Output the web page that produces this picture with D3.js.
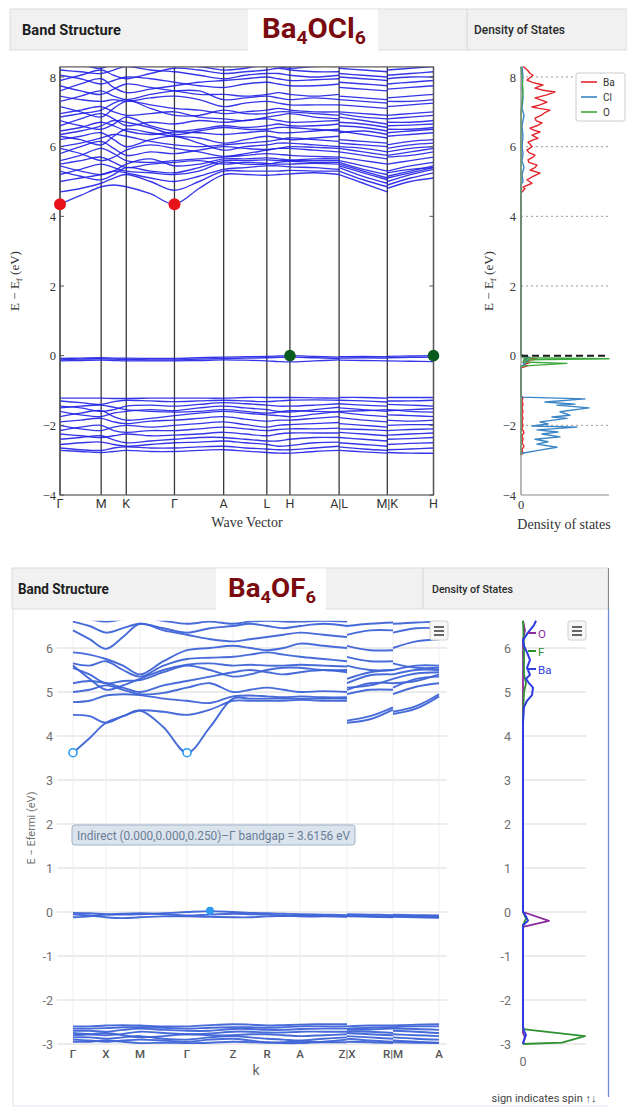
<!DOCTYPE html>
<html><head><meta charset="utf-8">
<script src="https://cdn.jsdelivr.net/npm/d3@7"></script>
<style>body{margin:0;background:#fff;} svg{display:block;}</style>
</head><body>
<svg id="chart" width="627" height="1108"></svg>
<script>
// ---------- Ba4OCl6 band structure ----------
const topKLabels = ["Γ", "M", "K", "Γ", "A", "L", "H", "A|L", "M|K", "H"];
const topKPos = [0, 0.41, 0.66, 1.14, 1.63, 2.06, 2.29, 2.78, 3.26, 3.72];
const topYTicks = [-4, -2, 0, 2, 4, 6, 8];

// each band: Γ m M m K m Γ m A m L m H m A | L m M | K m H
const topConduction = [
  [4.35,4.6,4.85,4.9,4.85,4.65,4.35,4.8,5.2,5.2,5.18,5.2,5.22,5.25,5.2, 5.2,4.95,4.7, 4.8,5.0,5.1],
  [4.7,4.8,4.95,5.1,5.2,5.0,4.75,5.0,5.3,5.3,5.3,5.3,5.32,5.3,5.3, 5.3,5.05,4.85, 4.9,5.1,5.25],
  [5.0,5.1,5.2,5.3,5.25,5.1,5.0,5.15,5.35,5.4,5.45,5.45,5.42,5.4,5.35, 5.4,5.15,4.95, 5.0,5.2,5.35],
  [5.2,5.35,5.5,5.4,5.3,5.25,5.2,5.3,5.55,5.5,5.5,5.55,5.58,5.55,5.55, 5.5,5.3,5.1, 5.15,5.3,5.45],
  [5.3,5.15,5.05,5.2,5.4,5.3,5.25,5.4,5.6,5.6,5.62,5.6,5.6,5.6,5.6, 5.45,5.25,5.05, 5.1,5.25,5.4],
  [5.45,5.3,5.2,5.3,5.5,5.65,5.45,5.5,5.65,5.65,5.68,5.65,5.62,5.65,5.65, 5.6,5.45,5.3, 5.3,5.45,5.55],
  [5.5,5.6,5.7,5.55,5.4,5.5,5.55,5.6,5.5,5.55,5.52,5.5,5.5,5.52,5.5, 5.55,5.35,5.2, 5.25,5.35,5.4],
  [5.6,5.75,5.95,5.8,5.6,5.55,5.6,5.65,5.7,5.75,5.8,5.78,5.75,5.72,5.7, 5.7,5.6,5.5, 5.5,5.6,5.7],
  [5.8,6.0,6.15,5.95,5.75,5.85,5.8,5.9,6.0,5.95,5.92,5.95,6.0,5.98,5.95, 5.95,5.85,5.75, 5.75,5.85,5.95],
  [5.95,5.8,5.6,5.7,5.9,6.05,5.95,5.85,5.72,5.8,5.9,5.95,5.95,5.9,5.85, 5.85,5.75,5.65, 5.7,5.75,5.85],
  [6.0,6.1,6.25,6.35,6.3,6.15,6.05,6.0,6.05,6.1,6.15,6.2,6.25,6.2,6.15, 6.1,6.05,6.0, 5.95,6.05,6.1],
  [6.2,6.3,6.4,6.2,6.0,6.2,6.3,6.1,5.9,6.0,6.05,6.1,6.1,6.05,6.0, 6.0,5.95,5.85, 5.85,5.95,6.0],
  [6.3,6.2,6.05,6.3,6.5,6.4,6.3,6.25,6.1,6.2,6.3,6.25,6.2,6.25,6.3, 6.2,6.15,6.1, 6.05,6.15,6.2],
  [6.35,6.45,6.6,6.75,6.7,6.55,6.35,6.45,6.55,6.5,6.5,6.55,6.55,6.5,6.45, 6.4,6.45,6.35, 6.4,6.45,6.5],
  [6.45,6.55,6.7,6.6,6.45,6.35,6.42,6.4,6.35,6.4,6.45,6.4,6.4,6.45,6.5, 6.45,6.35,6.25, 6.3,6.35,6.4],
  [6.6,6.8,6.95,6.8,6.6,6.7,6.65,6.75,6.7,6.75,6.8,6.75,6.7,6.72,6.75, 6.7,6.65,6.55, 6.6,6.62,6.65],
  [6.75,6.6,6.5,6.65,6.85,6.6,6.45,6.5,6.6,6.55,6.6,6.65,6.6,6.6,6.65, 6.6,6.55,6.45, 6.5,6.5,6.55],
  [6.85,6.95,7.05,7.25,7.35,7.1,6.9,6.9,7.05,6.95,6.95,7.0,7.0,6.95,6.9, 6.95,6.85,6.8, 6.8,6.85,6.9],
  [6.95,7.05,7.15,7.0,6.9,6.95,7.0,6.85,6.8,6.75,6.85,6.9,6.95,6.85,6.8, 6.85,6.75,6.65, 6.7,6.7,6.75],
  [7.15,7.0,6.85,7.1,7.3,7.2,7.1,7.05,6.95,7.0,7.05,7.1,7.05,7.0,7.0, 7.0,6.95,6.9, 6.9,6.95,7.0],
  [7.3,7.45,7.6,7.45,7.35,7.5,7.6,7.6,7.35,7.4,7.45,7.4,7.35,7.4,7.35, 7.35,7.3,7.25, 7.3,7.3,7.35],
  [7.45,7.35,7.3,7.35,7.3,7.4,7.45,7.35,7.15,7.25,7.3,7.25,7.2,7.2,7.2, 7.2,7.15,7.1, 7.15,7.2,7.25],
  [7.6,7.8,7.95,7.7,7.55,7.65,7.75,7.85,7.9,7.95,8.0,7.95,7.9,7.92,7.95, 7.85,7.8,7.75, 7.8,7.85,7.9],
  [7.75,7.6,7.5,7.65,7.8,7.7,7.6,7.5,7.5,7.45,7.5,7.55,7.5,7.45,7.5, 7.45,7.4,7.35, 7.4,7.45,7.5],
  [7.9,8.05,8.2,8.05,7.95,8.1,8.25,8.2,8.1,8.15,8.2,8.25,8.2,8.15,8.15, 8.1,8.05,8.0, 8.05,8.1,8.15],
  [8.05,7.95,7.8,7.9,8.0,7.95,7.85,7.75,7.7,7.8,7.85,7.8,7.75,7.75,7.8, 7.7,7.65,7.6, 7.65,7.7,7.75],
  [8.2,8.15,8.1,8.2,8.3,8.2,8.15,8.05,7.95,8.05,8.1,8.1,8.05,8.0,8.05, 8.0,7.95,7.9, 7.95,8.0,8.0],
  [8.4,8.35,8.25,8.4,8.5,8.45,8.35,8.3,8.2,8.25,8.35,8.3,8.25,8.3,8.3, 8.25,8.2,8.15, 8.2,8.25,8.3]
];
const topFlat = [
  [-0.08,-0.07,-0.06,-0.07,-0.07,-0.08,-0.08,-0.06,-0.04,-0.03,-0.02,-0.01,0.0,-0.02,-0.04, -0.03,-0.02,-0.03, -0.02,-0.01,0.0],
  [-0.12,-0.1,-0.09,-0.1,-0.11,-0.12,-0.12,-0.1,-0.08,-0.07,-0.06,-0.05,-0.04,-0.06,-0.08, -0.07,-0.06,-0.07, -0.06,-0.05,-0.04],
  [-0.15,-0.14,-0.13,-0.14,-0.15,-0.15,-0.15,-0.14,-0.12,-0.13,-0.15,-0.17,-0.18,-0.15,-0.12, -0.13,-0.14,-0.15, -0.15,-0.16,-0.17]
];
const topValence = [
  [-1.22,-1.22,-1.22,-1.23,-1.23,-1.22,-1.22,-1.22,-1.22,-1.2,-1.2,-1.2,-1.2,-1.21,-1.22, -1.2,-1.2,-1.22, -1.2,-1.2,-1.2],
  [-1.3,-1.35,-1.4,-1.32,-1.28,-1.3,-1.32,-1.3,-1.28,-1.3,-1.32,-1.3,-1.28,-1.27,-1.28, -1.28,-1.3,-1.33, -1.3,-1.3,-1.28],
  [-1.45,-1.5,-1.6,-1.55,-1.45,-1.42,-1.45,-1.4,-1.35,-1.38,-1.42,-1.45,-1.45,-1.42,-1.38, -1.38,-1.42,-1.45, -1.4,-1.42,-1.45],
  [-1.5,-1.45,-1.42,-1.48,-1.55,-1.6,-1.62,-1.6,-1.55,-1.6,-1.65,-1.62,-1.58,-1.6,-1.62, -1.6,-1.58,-1.55, -1.58,-1.55,-1.52],
  [-1.6,-1.7,-1.75,-1.65,-1.6,-1.55,-1.58,-1.5,-1.45,-1.5,-1.55,-1.6,-1.62,-1.55,-1.48, -1.5,-1.55,-1.6, -1.55,-1.6,-1.62],
  [-1.75,-1.65,-1.58,-1.75,-1.85,-1.8,-1.72,-1.65,-1.6,-1.65,-1.7,-1.72,-1.75,-1.68,-1.6, -1.62,-1.7,-1.75, -1.7,-1.72,-1.75],
  [-1.9,-1.85,-1.8,-1.9,-1.95,-1.88,-1.85,-1.8,-1.75,-1.82,-1.88,-1.85,-1.85,-1.8,-1.75, -1.78,-1.85,-1.9, -1.85,-1.88,-1.85],
  [-2.0,-2.1,-2.15,-2.05,-2.0,-2.05,-2.0,-1.95,-1.9,-1.98,-2.05,-2.0,-1.98,-1.95,-1.92, -1.95,-2.0,-2.05, -2.0,-1.98,-1.98],
  [-2.15,-2.05,-2.0,-2.15,-2.2,-2.15,-2.15,-2.1,-2.05,-2.1,-2.15,-2.12,-2.1,-2.1,-2.08, -2.1,-2.12,-2.15, -2.15,-2.12,-2.1],
  [-2.25,-2.3,-2.35,-2.3,-2.25,-2.3,-2.28,-2.25,-2.2,-2.25,-2.3,-2.25,-2.22,-2.22,-2.22, -2.2,-2.25,-2.3, -2.28,-2.25,-2.22],
  [-2.4,-2.35,-2.3,-2.42,-2.5,-2.45,-2.4,-2.35,-2.35,-2.4,-2.45,-2.45,-2.4,-2.35,-2.35, -2.35,-2.4,-2.45, -2.4,-2.38,-2.35],
  [-2.55,-2.5,-2.48,-2.55,-2.6,-2.55,-2.5,-2.48,-2.45,-2.5,-2.55,-2.6,-2.58,-2.5,-2.48, -2.5,-2.55,-2.6, -2.55,-2.52,-2.5],
  [-2.65,-2.7,-2.72,-2.65,-2.62,-2.65,-2.65,-2.62,-2.6,-2.65,-2.68,-2.7,-2.7,-2.65,-2.6, -2.62,-2.68,-2.72, -2.7,-2.68,-2.65],
  [-2.72,-2.75,-2.78,-2.75,-2.72,-2.75,-2.75,-2.72,-2.7,-2.74,-2.78,-2.8,-2.8,-2.75,-2.72, -2.72,-2.76,-2.8, -2.78,-2.8,-2.8]
];
// band edges: [k, E]
const topCBM = [[0, 4.35], [1.14, 4.35]];
const topVBM = [[2.29, 0.0], [3.72, 0.0]];

// ---------- Ba4OCl6 density of states: [E, DOS] ----------
const topDosBa = [[-2.85,0],[-2.8,2],[-2.7,1],[-2.6,3],[-2.5,1],[-2.4,2],[-2.3,1],[-2.2,3],[-2.1,1],[-2.0,2],[-1.9,1],[-1.8,2],[-1.7,1],[-1.6,2],[-1.5,1],[-1.4,2],[-1.3,1],[-1.2,2],[-1.15,0],[-0.35,0],[-0.3,6],[-0.25,3],[-0.2,9],[-0.15,4],[-0.1,16],[-0.05,5],[0.0,2],[0.05,0],[4.67,0],[4.8,4],[4.84,2],[4.95,11],[5.05,6],[5.15,12],[5.24,19],[5.33,9],[5.4,14],[5.47,16],[5.55,8],[5.62,7],[5.7,12],[5.76,14],[5.83,8],[5.9,6],[6.0,11],[6.07,9],[6.13,7],[6.2,13],[6.24,17],[6.33,11],[6.42,19],[6.48,12],[6.53,9],[6.6,16],[6.68,21],[6.75,15],[6.82,14],[6.9,20],[6.98,24],[7.05,29],[7.1,18],[7.14,11],[7.2,19],[7.28,26],[7.35,19],[7.4,14],[7.48,25],[7.53,30],[7.57,34],[7.62,22],[7.68,14],[7.73,18],[7.77,22],[7.84,12],[7.91,6],[7.98,9],[8.05,12],[8.1,9],[8.18,7],[8.26,4],[8.3,2]];
const topDosCl = [[-2.85,0],[-2.8,1],[-2.71,19],[-2.63,36],[-2.54,16],[-2.47,27],[-2.4,14],[-2.33,39],[-2.25,21],[-2.19,37],[-2.13,16],[-2.05,56],[-2.02,11],[-1.96,27],[-1.9,19],[-1.8,46],[-1.76,31],[-1.71,49],[-1.61,39],[-1.5,68],[-1.42,36],[-1.39,54],[-1.33,24],[-1.24,64],[-1.19,1],[-1.15,0],[-0.3,0],[-0.25,4],[-0.2,2],[-0.15,7],[-0.1,3],[-0.05,9],[0.0,2],[0.05,0],[4.9,0],[5.0,2],[5.2,1],[5.4,3],[5.6,1],[5.8,2],[6.0,1],[6.3,2],[6.6,1],[6.9,3],[7.1,1],[7.4,2],[7.7,1],[8.0,2],[8.3,1]];
const topDosO = [[-2.85,0],[-0.3,0],[-0.22,46],[-0.18,2],[-0.12,3],[-0.09,88],[-0.06,2],[0.0,0],[7.0,0],[7.3,1],[7.6,2],[8.0,1],[8.3,0]];
const topDosSeries = [
  {name: "Ba", color: "#e3262d", data: topDosBa},
  {name: "Cl", color: "#3a85c6", data: topDosCl},
  {name: "O",  color: "#3aa83a", data: topDosO}
];

// ---------- Ba4OF6 band structure ----------
const botKLabels = ["Γ", "X", "M", "Γ", "Z", "R", "A", "Z|X", "R|M", "A"];
const botKPos = [0, 0.33, 0.67, 1.14, 1.60, 1.94, 2.27, 2.74, 3.20, 3.66];
const botYTicks = [-3, -2, -1, 0, 1, 2, 3, 4, 5, 6];

// each band: Γ m X m M m Γ m Z m R m A m Z | X m R | M m A
const botConduction = [
  [3.62,3.95,4.3,4.45,4.58,4.2,3.62,4.2,4.85,4.85,4.85,4.85,4.85,4.85,4.85, 4.3,4.38,4.6, 4.5,4.62,4.9],
  [4.48,4.45,4.3,4.45,4.58,4.55,4.48,4.6,4.8,4.8,4.8,4.8,4.82,4.8,4.8, 4.35,4.45,4.65, 4.55,4.68,4.95],
  [4.77,4.8,4.92,4.95,4.93,4.85,4.8,4.75,4.9,4.92,4.9,4.88,4.9,4.88,4.88, 4.95,5.05,5.05, 4.95,5.12,5.2],
  [5.0,5.05,5.15,5.05,4.95,4.98,5.1,5.2,5.0,5.05,5.1,5.05,5.0,5.02,5.0, 5.05,5.2,5.2, 5.1,5.3,5.35],
  [5.2,5.25,5.2,5.1,5.0,5.15,5.25,5.35,5.45,5.5,5.45,5.4,5.45,5.5,5.45, 5.1,5.15,5.3, 5.2,5.25,5.4],
  [5.55,5.4,5.2,5.25,5.27,5.45,5.6,5.5,5.35,5.4,5.5,5.55,5.55,5.5,5.5, 5.2,5.38,5.4, 5.3,5.42,5.45],
  [5.6,5.3,5.05,5.15,5.3,5.5,5.62,5.65,5.6,5.62,5.6,5.6,5.62,5.6,5.58, 5.3,5.45,5.5, 5.4,5.5,5.5],
  [5.65,5.6,5.7,5.5,5.35,5.6,5.75,5.78,5.8,5.85,5.9,5.85,5.8,5.75,5.7, 5.6,5.5,5.5, 5.5,5.6,5.6],
  [5.9,5.85,5.75,5.6,5.4,5.7,5.95,6.0,6.05,6.0,5.95,6.0,6.1,6.05,6.0, 5.8,5.7,5.7, 5.65,5.55,5.55],
  [6.4,6.2,5.98,6.25,6.55,6.4,6.3,6.2,6.15,6.2,6.25,6.3,6.35,6.3,6.25, 6.05,5.95,5.95, 6.0,6.15,6.2],
  [6.6,6.5,6.35,6.45,6.55,6.45,6.35,6.45,6.5,6.55,6.5,6.45,6.5,6.55,6.5, 6.3,6.4,6.4, 6.35,6.45,6.45],
  [6.7,6.65,6.6,6.65,6.7,6.62,6.55,6.6,6.55,6.6,6.62,6.6,6.6,6.62,6.6, 6.5,6.55,6.58, 6.55,6.58,6.6]
];
const botFlat = [
  [-0.02,-0.03,-0.05,-0.06,-0.05,-0.03,0.0,0.02,0.0,-0.02,-0.03,-0.04,-0.05,-0.06,-0.07, -0.05,-0.06,-0.07, -0.06,-0.07,-0.08],
  [-0.12,-0.1,-0.06,-0.04,-0.03,-0.05,-0.08,-0.06,-0.04,-0.05,-0.06,-0.08,-0.1,-0.1,-0.1, -0.08,-0.09,-0.1, -0.09,-0.1,-0.11],
  [-0.05,-0.08,-0.12,-0.14,-0.12,-0.1,-0.1,-0.11,-0.12,-0.12,-0.1,-0.09,-0.08,-0.09,-0.11, -0.1,-0.11,-0.12, -0.11,-0.12,-0.13]
];
const botValence = [
  [-2.6,-2.6,-2.58,-2.57,-2.58,-2.6,-2.6,-2.57,-2.55,-2.56,-2.58,-2.57,-2.56,-2.55,-2.55, -2.6,-2.58,-2.58, -2.58,-2.56,-2.55],
  [-2.65,-2.65,-2.64,-2.62,-2.62,-2.63,-2.65,-2.63,-2.62,-2.62,-2.63,-2.62,-2.6,-2.6,-2.6, -2.65,-2.63,-2.62, -2.62,-2.6,-2.6],
  [-2.7,-2.7,-2.72,-2.68,-2.65,-2.68,-2.7,-2.7,-2.66,-2.66,-2.68,-2.68,-2.66,-2.65,-2.65, -2.68,-2.67,-2.65, -2.65,-2.66,-2.68],
  [-2.75,-2.78,-2.8,-2.77,-2.72,-2.75,-2.78,-2.76,-2.72,-2.72,-2.74,-2.74,-2.72,-2.72,-2.72, -2.72,-2.72,-2.75, -2.7,-2.72,-2.75],
  [-2.8,-2.78,-2.75,-2.8,-2.85,-2.82,-2.78,-2.8,-2.8,-2.78,-2.78,-2.8,-2.82,-2.8,-2.78, -2.75,-2.78,-2.8, -2.78,-2.8,-2.82],
  [-2.85,-2.85,-2.88,-2.85,-2.82,-2.88,-2.9,-2.85,-2.82,-2.85,-2.88,-2.9,-2.92,-2.88,-2.85, -2.82,-2.85,-2.88, -2.85,-2.88,-2.9],
  [-2.9,-2.92,-2.95,-2.92,-2.9,-2.92,-2.95,-2.9,-2.88,-2.92,-2.96,-2.98,-2.98,-2.95,-2.9, -2.88,-2.92,-2.95, -2.92,-2.95,-2.97],
  [-2.95,-2.95,-2.92,-2.95,-2.98,-2.97,-2.98,-2.97,-2.95,-2.96,-2.97,-2.96,-2.95,-2.96,-2.96, -2.95,-2.96,-2.98, -2.96,-2.97,-2.98]
];
const botCBM = [[0, 3.62], [1.14, 3.62]];
const botVBM = [[1.37, 0.03]];
const bandgapNote = "Indirect (0.000,0.000,0.250)–Γ bandgap = 3.6156 eV";

// ---------- Ba4OF6 density of states: [E, DOS] ----------
const botDosBa = [[-3.0,0],[-2.9,1],[-2.8,3],[-2.7,1],[-2.6,0],[-0.3,0],[-0.2,5],[-0.1,3],[0,0],[4.3,0],[4.66,1],[4.8,4],[4.93,9],[5.1,10],[5.2,6],[5.3,3],[5.39,7],[5.5,5],[5.55,4],[5.73,7],[5.9,4],[6.05,1],[6.18,0],[6.35,5],[6.52,11],[6.62,13]];
const botDosF = [[-3.0,0],[-2.97,39],[-2.82,62],[-2.66,0],[-0.3,0],[-0.15,3],[0,0],[4.4,0],[5.0,1],[5.2,3],[5.4,1],[6.0,1],[6.62,0]];
const botDosO = [[-3.0,0],[-2.85,2],[-2.75,0],[-0.34,0],[-0.2,26],[0.0,0],[6.2,0],[6.4,2],[6.62,0]];
const botDosSeries = [
  {name: "O",  color: "#8a2b9e", data: botDosO},
  {name: "F",  color: "#2e9130", data: botDosF},
  {name: "Ba", color: "#2d3ce0", data: botDosBa}
];

// =====================================================================
const svg = d3.select("#chart");
const SANS = "Roboto, 'Liberation Sans', Arial, sans-serif";
const SERIF = "'Liberation Serif', 'DejaVu Serif', serif";

// squeeze a text element horizontally to a given width
function fitWidth(sel, x, y, width) {
  const w = sel.node().getBBox().width;
  sel.attr("x", 0).attr("y", 0)
     .attr("transform", `translate(${x},${y}) scale(${width / w},1)`);
}

function header(o) {
  const g = svg.append("g");
  g.append("rect").attr("x", o.x0).attr("y", o.y0).attr("width", o.x1 - o.x0).attr("height", o.h)
    .attr("fill", "#f1f1f1").attr("stroke", "#dcdcdc");
  g.append("rect").attr("x", o.tab0).attr("y", o.y0 + 0.5).attr("width", o.tab1 - o.tab0).attr("height", o.h + 6)
    .attr("fill", "#fff");
  g.append("line").attr("x1", o.div).attr("x2", o.div).attr("y1", o.y0).attr("y2", o.y0 + o.h)
    .attr("stroke", "#d6d6d6");
  const t1 = g.append("text").attr("font-family", SANS).attr("font-weight", 700).attr("font-size", 15)
    .attr("fill", "#1e1e1e").text("Band Structure");
  fitWidth(t1, o.bsX, o.y0 + o.h / 2 + 5, o.bsW);
  const t2 = g.append("text").attr("font-family", SANS).attr("font-weight", 500).attr("font-size", o.dsSize)
    .attr("fill", "#2a2a2a").text("Density of States");
  fitWidth(t2, o.dsX, o.y0 + o.h / 2 + 4, o.dsW);
  const title = g.append("text").attr("font-family", SANS).attr("font-weight", 700)
    .attr("font-size", o.titleSize).attr("fill", "#7a0b0e");
  o.title.forEach(([s, sub]) => {
    title.append("tspan").attr("font-size", sub ? o.titleSize * 0.66 : o.titleSize)
      .attr("dy", sub ? 6 : (title.selectAll("tspan").size() ? -6 : 0)).text(s);
  });
  fitWidth(title, o.titleX, o.titleY, o.titleW);
}

header({x0: 10, x1: 627, y0: 9, h: 41, tab0: 248, tab1: 378, div: 467,
  bsX: 22, bsW: 99, dsX: 474, dsW: 91, dsSize: 12,
  title: [["Ba", 0], ["4", 1], ["OCl", 0], ["6", 1]], titleSize: 27, titleX: 262, titleY: 44, titleW: 104});
header({x0: 12, x1: 608, y0: 568, h: 41, tab0: 216, tab1: 326, div: 423,
  bsX: 18, bsW: 91, dsX: 432, dsW: 81, dsSize: 11.5,
  title: [["Ba", 0], ["4", 1], ["OF", 0], ["6", 1]], titleSize: 25, titleX: 228, titleY: 603, titleW: 88});

// bottom panel borders
svg.append("line").attr("x1", 13).attr("x2", 13).attr("y1", 609).attr("y2", 1106).attr("stroke", "#e0e0e0");
svg.append("line").attr("x1", 13).attr("x2", 608).attr("y1", 1106).attr("y2", 1106).attr("stroke", "#dce8f4");
svg.append("line").attr("x1", 608.5).attr("x2", 608.5).attr("y1", 568).attr("y2", 609).attr("stroke", "#888");
svg.append("line").attr("x1", 608.5).attr("x2", 608.5).attr("y1", 609).attr("y2", 1097).attr("stroke", "#6d8ad8").attr("stroke-width", 1.3);

// ---------- band helpers ----------
function bandSegments(kpos) {
  const p1 = [];
  for (let i = 0; i < 7; i++) p1.push(kpos[i], (kpos[i] + kpos[i + 1]) / 2);
  p1.push(kpos[7]);
  const p2 = [kpos[7], (kpos[7] + kpos[8]) / 2, kpos[8]];
  const p3 = [kpos[8], (kpos[8] + kpos[9]) / 2, kpos[9]];
  return [[0, p1], [15, p2], [18, p3]];
}
function drawBands(g, bands, kpos, x, y, color, width, opacity) {
  const segs = bandSegments(kpos);
  const line = d3.line().x(d => x(d[0])).y(d => y(d[1])).curve(d3.curveCatmullRom.alpha(0.5));
  bands.forEach(b => segs.forEach(([s, ks]) => {
    g.append("path").attr("d", line(ks.map((k, i) => [k, b[s + i]])))
      .attr("fill", "none").attr("stroke", color).attr("stroke-width", width)
      .attr("stroke-opacity", opacity);
  }));
}

// =================== top band structure ===================
const xT = d3.scaleLinear().domain([0, 3.72]).range([60, 433.5]);
const yT = d3.scaleLinear().domain([-4, 8]).range([495, 77]);
const topEmax = 8.29;
const gT = svg.append("g");
svg.append("clipPath").attr("id", "clipT").append("rect")
  .attr("x", xT(0)).attr("y", yT(topEmax)).attr("width", xT(3.72) - xT(0)).attr("height", yT(-4) - yT(topEmax));

// high-symmetry lines
topKPos.forEach(k => gT.append("line").attr("x1", xT(k)).attr("x2", xT(k))
  .attr("y1", yT(topEmax)).attr("y2", yT(-4)).attr("stroke", "#3a3a3a").attr("stroke-width", 1.3));

const gTB = gT.append("g").attr("clip-path", "url(#clipT)");
drawBands(gTB, topConduction, topKPos, xT, yT, "#2020e6", 1.35, 0.9);
drawBands(gTB, topFlat, topKPos, xT, yT, "#2020e6", 1.35, 0.9);
drawBands(gTB, topValence, topKPos, xT, yT, "#2020e6", 1.35, 0.9);

// frame
gT.append("rect").attr("x", xT(0)).attr("y", yT(topEmax)).attr("width", xT(3.72) - xT(0))
  .attr("height", yT(-4) - yT(topEmax)).attr("fill", "none").attr("stroke", "#555").attr("stroke-width", 1.2);
topYTicks.forEach(v => {
  gT.append("line").attr("x1", xT(0)).attr("x2", xT(0) + 4).attr("y1", yT(v)).attr("y2", yT(v)).attr("stroke", "#555");
  gT.append("line").attr("x1", xT(3.72) - 4).attr("x2", xT(3.72)).attr("y1", yT(v)).attr("y2", yT(v)).attr("stroke", "#555");
  gT.append("text").attr("x", 56).attr("y", yT(v) + 4.5).attr("text-anchor", "end")
    .attr("font-family", SERIF).attr("font-size", 12.5).attr("fill", "#333")
    .text(v < 0 ? "−" + Math.abs(v) : v);
});
topKLabels.forEach((l, i) => gT.append("text").attr("x", xT(topKPos[i])).attr("y", 508)
  .attr("text-anchor", "middle").attr("font-family", SANS).attr("font-size", 12.5).attr("fill", "#333").text(l));
gT.append("text").attr("x", 247).attr("y", 527).attr("text-anchor", "middle")
  .attr("font-family", SERIF).attr("font-size", 14).attr("fill", "#333").text("Wave Vector");

function eLabel(g, x, y) {
  const t = g.append("text").attr("transform", `translate(${x},${y}) rotate(-90)`).attr("text-anchor", "middle")
    .attr("font-family", SERIF).attr("font-size", 13).attr("fill", "#333");
  t.append("tspan").text("E − E");
  t.append("tspan").attr("font-size", 9).attr("dy", 3).text("f");
  t.append("tspan").attr("dy", -3).text(" (eV)");
}
eLabel(gT, 19, 281);

topCBM.forEach(([k, e]) => gT.append("circle").attr("cx", xT(k)).attr("cy", yT(e)).attr("r", 6).attr("fill", "#e8121c"));
topVBM.forEach(([k, e]) => gT.append("circle").attr("cx", xT(k)).attr("cy", yT(e)).attr("r", 5.8).attr("fill", "#0b5a1e"));

// =================== top density of states ===================
const xD = d3.scaleLinear().domain([0, 88]).range([521, 609]);
const gD = svg.append("g");
[8, 6, 4, 2, -2].forEach(v => gD.append("line").attr("x1", xD(0)).attr("x2", 608).attr("y1", yT(v)).attr("y2", yT(v))
  .attr("stroke", "#999").attr("stroke-dasharray", "2,3"));
svg.append("clipPath").attr("id", "clipD").append("rect").attr("x", 500).attr("y", yT(topEmax) - 2).attr("width", 127).attr("height", yT(-4) - yT(topEmax) + 2);
const dosLineT = d3.line().x(d => xD(d[1])).y(d => yT(d[0]));
const gDC = gD.append("g").attr("clip-path", "url(#clipD)");
topDosSeries.forEach(s => gDC.append("path").attr("d", dosLineT(s.data)).attr("fill", "none")
  .attr("stroke", s.color).attr("stroke-width", 1.4).attr("stroke-linejoin", "round"));
gD.append("line").attr("x1", xD(0)).attr("x2", 608).attr("y1", yT(0)).attr("y2", yT(0))
  .attr("stroke", "#1a1a1a").attr("stroke-width", 2).attr("stroke-dasharray", "7,4");
gD.append("line").attr("x1", xD(0)).attr("x2", xD(0)).attr("y1", yT(topEmax)).attr("y2", yT(-4)).attr("stroke", "#888").attr("stroke-width", 1.2);
gD.append("line").attr("x1", xD(0)).attr("x2", 609).attr("y1", yT(-4)).attr("y2", yT(-4)).attr("stroke", "#888").attr("stroke-width", 1.2);
topYTicks.forEach(v => gD.append("text").attr("x", 516).attr("y", yT(v) + 4.5).attr("text-anchor", "end")
  .attr("font-family", SERIF).attr("font-size", 12.5).attr("fill", "#333").text(v < 0 ? "−" + Math.abs(v) : v));
gD.append("text").attr("x", xD(0)).attr("y", 509).attr("text-anchor", "middle")
  .attr("font-family", SERIF).attr("font-size", 12.5).attr("fill", "#333").text("0");
gD.append("text").attr("x", 564).attr("y", 529).attr("text-anchor", "middle")
  .attr("font-family", SERIF).attr("font-size", 14).attr("fill", "#333").text("Density of states");
eLabel(gD, 493, 281);
// legend
const lg = gD.append("g");
lg.append("rect").attr("x", 576).attr("y", 73).attr("width", 49).attr("height", 48).attr("rx", 2)
  .attr("fill", "#fff").attr("fill-opacity", 0.9).attr("stroke", "#ccc");
topDosSeries.forEach((s, i) => {
  lg.append("line").attr("x1", 581).attr("x2", 597).attr("y1", 82 + i * 15).attr("y2", 82 + i * 15)
    .attr("stroke", s.color).attr("stroke-width", 1.6);
  lg.append("text").attr("x", 603).attr("y", 85.5 + i * 15).attr("font-family", SANS).attr("font-size", 10)
    .attr("fill", "#333").text(s.name);
});

// =================== bottom band structure ===================
const xB = d3.scaleLinear().domain([0, 3.66]).range([73, 439]);
const yB = d3.scaleLinear().domain([-3, 6]).range([1044, 648]);
const botEmax = 6.62;
const gB = svg.append("g");
botYTicks.forEach(v => {
  gB.append("line").attr("x1", 57).attr("x2", 447).attr("y1", yB(v)).attr("y2", yB(v))
    .attr("stroke", "#d9d9d9").attr("stroke-width", 1);
  gB.append("text").attr("x", 53).attr("y", yB(v) + 4.5).attr("text-anchor", "end")
    .attr("font-family", SANS).attr("font-size", 12.5).attr("fill", "#707070").text(v);
});
botKPos.forEach(k => gB.append("line").attr("x1", xB(k)).attr("x2", xB(k)).attr("y1", yB(botEmax)).attr("y2", yB(-3))
  .attr("stroke", "#efefef"));
svg.append("clipPath").attr("id", "clipB").append("rect").attr("x", 60).attr("y", yB(botEmax))
  .attr("width", 390).attr("height", yB(-3.05) - yB(botEmax));
const gBB = gB.append("g").attr("clip-path", "url(#clipB)");
drawBands(gBB, botConduction, botKPos, xB, yB, "#3d63d6", 1.9, 0.95);
drawBands(gBB, botFlat, botKPos, xB, yB, "#3d63d6", 1.9, 0.95);
drawBands(gBB, botValence, botKPos, xB, yB, "#3d63d6", 1.9, 0.95);
botKLabels.forEach((l, i) => gB.append("text").attr("x", xB(botKPos[i])).attr("y", 1058)
  .attr("text-anchor", "middle").attr("font-family", SANS).attr("font-size", 11.5).attr("font-weight", 500)
  .attr("fill", "#555").text(l));
gB.append("text").attr("x", 256).attr("y", 1075).attr("text-anchor", "middle")
  .attr("font-family", SANS).attr("font-size", 14).attr("fill", "#666").text("k");
gB.append("text").attr("transform", "translate(35,828) rotate(-90)").attr("text-anchor", "middle")
  .attr("font-family", SANS).attr("font-size", 11).attr("fill", "#707070").text("E − Efermi (eV)");

botCBM.forEach(([k, e]) => gB.append("circle").attr("cx", xB(k)).attr("cy", yB(e)).attr("r", 4)
  .attr("fill", "#fff").attr("stroke", "#2b9af0").attr("stroke-width", 1.6));
botVBM.forEach(([k, e]) => gB.append("circle").attr("cx", xB(k)).attr("cy", yB(e)).attr("r", 4)
  .attr("fill", "#2b9af0"));

// bandgap note
const note = gB.append("g");
note.append("rect").attr("x", 72).attr("y", 825).attr("width", 283).attr("height", 20).attr("rx", 3)
  .attr("fill", "#d5dfea").attr("fill-opacity", 0.85).attr("stroke", "#9fb4cc");
note.append("text").attr("x", 77).attr("y", 839.5).attr("font-family", SANS).attr("font-size", 12)
  .attr("fill", "#6a7d96").attr("textLength", 273).attr("lengthAdjust", "spacingAndGlyphs").text(bandgapNote);

// menu buttons
function menuButton(x, y) {
  const g = svg.append("g");
  g.append("rect").attr("x", x).attr("y", y).attr("width", 18).attr("height", 19).attr("rx", 2)
    .attr("fill", "#f7f7f7").attr("stroke", "#cfcfcf");
  [6, 10, 14].forEach(d => g.append("line").attr("x1", x + 4).attr("x2", x + 14)
    .attr("y1", y + d).attr("y2", y + d).attr("stroke", "#666").attr("stroke-width", 2));
}
menuButton(430, 621);
menuButton(568, 621);

// =================== bottom density of states ===================
const xE = d3.scaleLinear().domain([0, 62]).range([523, 585]);
const gE = svg.append("g");
botYTicks.forEach(v => {
  gE.append("line").attr("x1", 523).attr("x2", 586).attr("y1", yB(v)).attr("y2", yB(v)).attr("stroke", "#d9d9d9");
  gE.append("text").attr("x", 511).attr("y", yB(v) + 4.5).attr("text-anchor", "end")
    .attr("font-family", SANS).attr("font-size", 12.5).attr("fill", "#707070").text(v);
});
gE.append("text").attr("x", 523).attr("y", 1066).attr("text-anchor", "middle")
  .attr("font-family", SANS).attr("font-size", 12.5).attr("fill", "#707070").text("0");
const dosLineB = d3.line().x(d => xE(d[1])).y(d => yB(d[0]));
botDosSeries.forEach(s => gE.append("path").attr("d", dosLineB(s.data)).attr("fill", "none")
  .attr("stroke", s.color).attr("stroke-width", s.name === "Ba" ? 2 : 1.8).attr("stroke-linejoin", "round"));
botDosSeries.forEach((s, i) => {
  const y = 633 + i * 18;
  gE.append("line").attr("x1", 528).attr("x2", 536).attr("y1", y).attr("y2", y).attr("stroke", s.color).attr("stroke-width", 2);
  gE.append("text").attr("x", 538).attr("y", y + 4.5).attr("font-family", SANS).attr("font-size", 11.5)
    .attr("fill", s.color).text(s.name);
});
gE.append("text").attr("x", 544).attr("y", 1102).attr("text-anchor", "middle")
  .attr("font-family", SANS).attr("font-size", 11).attr("fill", "#444").text("sign indicates spin ↑↓");
</script></body></html>
